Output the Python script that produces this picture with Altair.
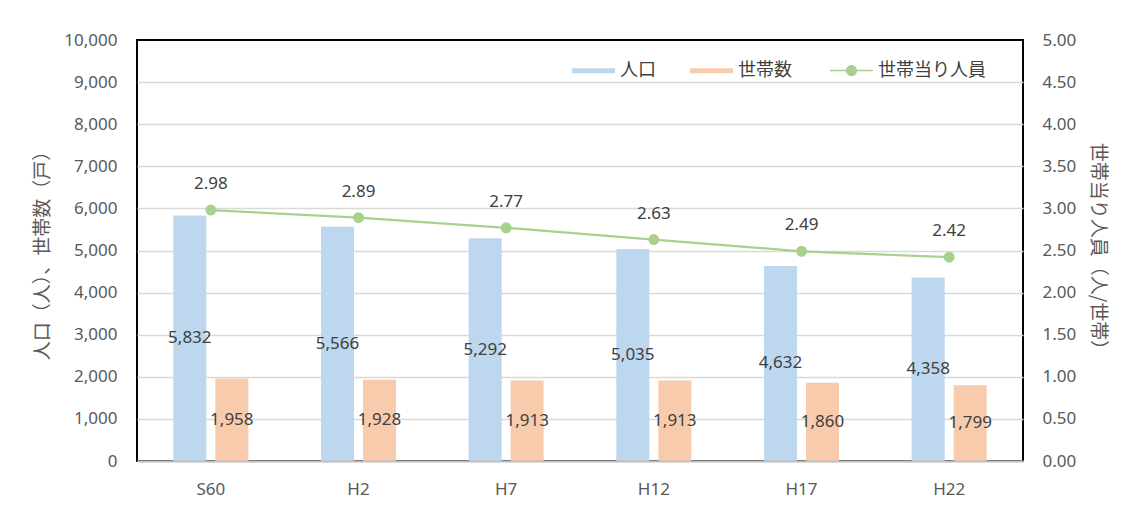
import altair as alt
import pandas as pd

categories = ["S60", "H2", "H7", "H12", "H17", "H22"]
population = [5832, 5566, 5292, 5035, 4632, 4358]
households = [1958, 1928, 1913, 1913, 1860, 1799]
persons = [2.98, 2.89, 2.77, 2.63, 2.49, 2.42]

bar_series = ["人口", "世帯数"]
line_series = "世帯当り人員"
left_title = "人口（人）、世帯数（戸）"
right_title = "世帯当り人員（人/世帯）"

BLUE = "#BDD7EE"
ORANGE = "#F8CBAD"
GREEN = "#A9D18E"
NUM_FONT = "Noto Sans"
JP_FONT = "Noto Sans CJK JP"

rows = []
for c, p, h in zip(categories, population, households):
    rows.append({"cat": c, "series": bar_series[0], "value": p})
    rows.append({"cat": c, "series": bar_series[1], "value": h})
bars_df = pd.DataFrame(rows)
line_df = pd.DataFrame({"cat": categories, "ratio": persons, "series": [line_series] * len(categories)})

x_scale = alt.Scale(domain=categories, paddingInner=0.492, paddingOuter=0.246)
x_axis = alt.Axis(title=None, labelFont=NUM_FONT, labelFontSize=17, labelColor="#595959",
                  labelAngle=0, tickSize=0, labelPadding=20, domainColor="#bfbfbf",
                  domainWidth=2, grid=False, zindex=1)
xoff = alt.XOffset("series:N", scale=alt.Scale(domain=bar_series, paddingInner=0.214, paddingOuter=0))

left_axis = alt.Axis(title=left_title, titleFont=JP_FONT, titleFontSize=19, titleFontWeight="normal",
                     titleColor="#595959", titlePadding=11, labelFont=NUM_FONT, labelFontSize=17,
                     labelColor="#595959", values=list(range(0, 10001, 1000)), format=",.0f",
                     tickSize=0, labelPadding=20, domain=False, grid=True, gridColor="#d9d9d9",
                     gridWidth=1.3, gridOpacity=alt.ExprRef("datum.value >= 10000 ? 0 : 1"))
right_axis = alt.Axis(title=right_title, titleFont=JP_FONT, titleFontSize=19, titleFontWeight="normal",
                      titleColor="#595959", titlePadding=12, titleAngle=90, labelFont=NUM_FONT,
                      labelFontSize=17, labelColor="#595959", values=[i * 0.5 for i in range(11)],
                      format=".2f", tickSize=0, labelPadding=19, domain=False, grid=False, orient="right")

rect_path = "M-1,-0.12H1V0.12H-1Z"
line_path = ("M-1,-0.04H1V0.04H-1Z "
             "M-0.26,0A0.26,0.26 0 1,1 0.26,0A0.26,0.26 0 1,1 -0.26,0Z")

bars = alt.Chart(bars_df).mark_bar().encode(
    x=alt.X("cat:N", scale=x_scale, axis=x_axis, sort=categories),
    xOffset=xoff,
    y=alt.Y("value:Q", scale=alt.Scale(domain=[0, 10000], nice=False), axis=left_axis),
    color=alt.Color("series:N", scale=alt.Scale(domain=bar_series, range=[BLUE, ORANGE]),
                    legend=alt.Legend(orient="none", direction="horizontal", legendX=435, legendY=9,
                                      title=None, symbolType=rect_path, symbolSize=1849,
                                      symbolStrokeWidth=0, labelFont=JP_FONT, labelFontSize=18,
                                      labelColor="#404040", labelOffset=5, columnPadding=34,
                                      padding=0)),
)

bar_text = alt.Chart(bars_df).transform_calculate(mid="datum.value / 2").mark_text(
    font=NUM_FONT, fontSize=17, color="#404040", baseline="middle"
).encode(
    x=alt.X("cat:N", scale=x_scale, axis=x_axis, sort=categories),
    xOffset=xoff,
    y=alt.Y("mid:Q", scale=alt.Scale(domain=[0, 10000], nice=False), axis=left_axis),
    text=alt.Text("value:Q", format=","),
)

left = alt.layer(bars, bar_text)

line = alt.Chart(line_df).mark_line(color=GREEN, strokeWidth=2.25).encode(
    x=alt.X("cat:N", scale=x_scale, axis=x_axis, sort=categories),
    y=alt.Y("ratio:Q", scale=alt.Scale(domain=[0, 5], nice=False), axis=right_axis),
)
points = alt.Chart(line_df).mark_point(filled=True, size=120, opacity=1, strokeWidth=0).encode(
    x=alt.X("cat:N", scale=x_scale, axis=x_axis, sort=categories),
    y=alt.Y("ratio:Q", scale=alt.Scale(domain=[0, 5], nice=False), axis=right_axis),
    color=alt.Color("series:N", scale=alt.Scale(domain=[line_series], range=[GREEN]),
                    legend=alt.Legend(orient="none", direction="horizontal", legendX=693, legendY=9,
                                      title=None, symbolType=line_path, symbolSize=1849,
                                      symbolStrokeWidth=0, labelFont=JP_FONT, labelFontSize=18,
                                      labelColor="#404040", labelOffset=5, padding=0)),
)
line_text = alt.Chart(line_df).mark_text(
    font=NUM_FONT, fontSize=17, color="#404040", baseline="middle", dy=-26
).encode(
    x=alt.X("cat:N", scale=x_scale, axis=x_axis, sort=categories),
    y=alt.Y("ratio:Q", scale=alt.Scale(domain=[0, 5], nice=False), axis=right_axis),
    text=alt.Text("ratio:Q", format=".2f"),
)

right = alt.layer(line, points, line_text)

chart = alt.layer(left, right).resolve_scale(y="independent", color="independent").properties(
    width=886, height=421,
    autosize=alt.AutoSizeParams(type="none"),
    padding={"left": 129, "top": 32, "right": 106, "bottom": 40},
).configure(background="white").configure_view(stroke="#000000", strokeWidth=2)

chart.save("out.html", embed_options={"renderer": "svg", "actions": False})
